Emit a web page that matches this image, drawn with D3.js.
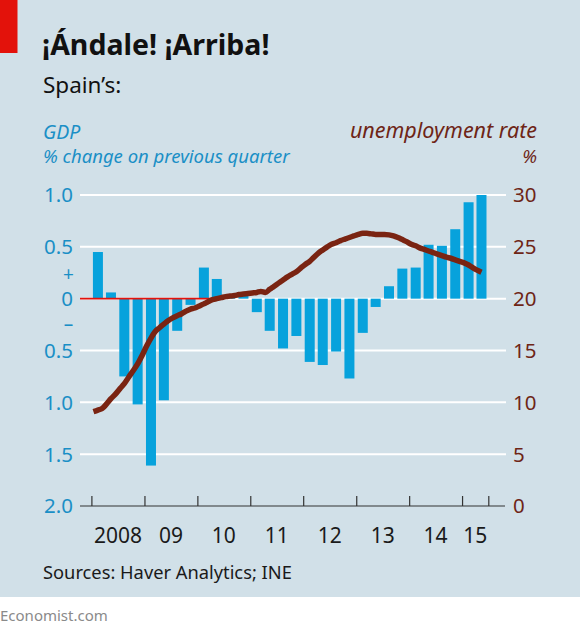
<!DOCTYPE html>
<html>
<head>
<meta charset="utf-8">
<script src="https://cdn.jsdelivr.net/npm/d3@7"></script>
<style>
  html, body { margin: 0; padding: 0; background: #ffffff; }
  svg { display: block; }
  text { font-family: "Noto Sans", Roboto, sans-serif; }
</style>
</head>
<body>
<div id="chart"></div>
<script>
// ---------------- DATA ----------------
// Quarterly GDP, % change on previous quarter, 2008Q1 – 2015Q2
const quarters = [
  "2008Q1","2008Q2","2008Q3","2008Q4",
  "2009Q1","2009Q2","2009Q3","2009Q4",
  "2010Q1","2010Q2","2010Q3","2010Q4",
  "2011Q1","2011Q2","2011Q3","2011Q4",
  "2012Q1","2012Q2","2012Q3","2012Q4",
  "2013Q1","2013Q2","2013Q3","2013Q4",
  "2014Q1","2014Q2","2014Q3","2014Q4",
  "2015Q1","2015Q2"
];
const gdpChange = [
  0.45, 0.06, -0.75, -1.02,
  -1.61, -0.98, -0.31, -0.06,
  0.30, 0.19, 0.01, 0.03,
  -0.13, -0.31, -0.48, -0.36,
  -0.61, -0.64, -0.51, -0.77,
  -0.33, -0.08, 0.12, 0.29,
  0.30, 0.52, 0.51, 0.67,
  0.93, 1.00
];
// Monthly unemployment rate (%), January 2008 – May 2015
const unempMonths = d3.range(0, 89).map(m => `${2008 + Math.floor(m / 12)}-${String(m % 12 + 1).padStart(2, "0")}`);
const unempRate = [
  9.1, 9.25, 9.4, 9.85, 10.35, 10.8, 11.3, 11.8, 12.45, 13.05, 13.7, 14.5,
  15.4, 16.2, 16.8, 17.2, 17.55, 17.9, 18.15, 18.35, 18.55, 18.8, 19.0, 19.1,
  19.3, 19.5, 19.7, 19.9, 20.0, 20.1, 20.2, 20.25, 20.3, 20.4, 20.45, 20.5,
  20.55, 20.6, 20.7, 20.6, 20.9, 21.2, 21.5, 21.8, 22.1, 22.35, 22.6, 22.95,
  23.3, 23.6, 24.0, 24.4, 24.7, 25.0, 25.25, 25.4, 25.6, 25.75, 25.9, 26.05,
  26.2, 26.3, 26.3, 26.25, 26.2, 26.2, 26.2, 26.15, 26.05, 25.9, 25.7, 25.5,
  25.25, 25.1, 24.9, 24.75, 24.6, 24.45, 24.3, 24.15, 24.0, 23.9, 23.75, 23.6,
  23.45, 23.25, 23.0, 22.75, 22.55
];
// Axis ticks
const gdpTicks = [1.0, 0.5, 0, -0.5, -1.0, -1.5, -2.0];
const gdpTickLabels = ["1.0", "0.5", "0", "0.5", "1.0", "1.5", "2.0"];
const unempTicks = [30, 25, 20, 15, 10, 5, 0];
const yearTicks = [2008, 2009, 2010, 2011, 2012, 2013, 2014, 2015, 2015.5];
const yearLabels = ["2008", "09", "10", "11", "12", "13", "14", "15"];

// ---------------- LAYOUT ----------------
const W = 580, H = 634;
const COL = {
  bg: "#d1e0e8", bar: "#07a2dc", line: "#7a2412", blueText: "#1a8fc6",
  brownText: "#6e2516", red: "#e3120b", grid: "#ffffff", text: "#1a1a1a"
};
const plotL = 80, plotR = 506, plotT = 195, plotB = 506;

const svg = d3.select("#chart").append("svg").attr("width", W).attr("height", H);

svg.append("rect").attr("x", 0).attr("y", 0).attr("width", W).attr("height", 597).attr("fill", COL.bg);
svg.append("rect").attr("x", 0).attr("y", 0).attr("width", 17.5).attr("height", 53).attr("fill", COL.red);

// Titles
svg.append("text").attr("x", 42).attr("y", 55).attr("font-size", 28.5).attr("font-weight", 700)
  .attr("fill", "#111").text("¡Ándale! ¡Arriba!");
svg.append("text").attr("x", 43).attr("y", 93).attr("font-size", 22.5)
  .attr("fill", "#111").text("Spain’s:");
svg.append("text").attr("x", 43).attr("y", 139).attr("font-size", 19.5).attr("font-style", "italic")
  .attr("fill", COL.blueText).text("GDP");
svg.append("text").attr("x", 43).attr("y", 163).attr("font-size", 18.5).attr("font-style", "italic")
  .attr("fill", COL.blueText).text("% change on previous quarter");
svg.append("text").attr("x", 537).attr("y", 138).attr("font-size", 21.5).attr("font-style", "italic")
  .attr("text-anchor", "end").attr("fill", COL.brownText).text("unemployment rate");
svg.append("text").attr("x", 537).attr("y", 163).attr("font-size", 18.5).attr("font-style", "italic")
  .attr("text-anchor", "end").attr("fill", COL.brownText).text("%");

// Scales
const x = d3.scaleTime()
  .domain([new Date(2008, 0, 1), new Date(2015, 6, 1)])
  .range([91.4, 488.3]);
const yL = d3.scaleLinear().domain([-2, 1]).range([plotB, plotT]);
const yR = d3.scaleLinear().domain([0, 30]).range([plotB, plotT]);
const yearDate = v => new Date(Math.floor(v), Math.round((v - Math.floor(v)) * 12), 1);

// Gridlines
svg.append("g").selectAll("line").data(gdpTicks.filter(d => d > -2)).join("line")
  .attr("x1", plotL).attr("x2", plotR)
  .attr("y1", d => yL(d)).attr("y2", d => yL(d))
  .attr("stroke", COL.grid).attr("stroke-width", 2);

// Left axis labels
svg.append("g").selectAll("text").data(gdpTicks).join("text")
  .attr("x", 73).attr("y", d => yL(d)).attr("dy", "0.36em")
  .attr("text-anchor", "end").attr("font-size", 20.5).attr("fill", COL.blueText)
  .text((d, i) => gdpTickLabels[i]);
svg.append("text").attr("x", 68.5).attr("y", yL(0.24)).attr("dy", "0.36em")
  .attr("text-anchor", "middle").attr("font-size", 19).attr("fill", COL.blueText).text("+");
svg.append("text").attr("x", 68.5).attr("y", yL(-0.25)).attr("dy", "0.36em")
  .attr("text-anchor", "middle").attr("font-size", 19).attr("fill", COL.blueText).text("–");

// Right axis labels
svg.append("g").selectAll("text").data(unempTicks).join("text")
  .attr("x", 513).attr("y", d => yR(d)).attr("dy", "0.36em")
  .attr("text-anchor", "start").attr("font-size", 20.5).attr("fill", COL.brownText)
  .text(d => d);

// Bars
const qDate = i => new Date(2008, 3 * i + 1, 15);
const barW = 10;
svg.append("g").selectAll("rect").data(gdpChange).join("rect")
  .attr("x", (d, i) => x(qDate(i)) - barW / 2)
  .attr("width", barW)
  .attr("y", d => yL(Math.max(0, d)))
  .attr("height", d => Math.abs(yL(d) - yL(0)))
  .attr("fill", COL.bar);

// Red zero line (left part)
svg.append("line").attr("x1", plotL).attr("x2", 211)
  .attr("y1", yL(0)).attr("y2", yL(0)).attr("stroke", COL.red).attr("stroke-width", 1.6);

// Unemployment line
const mDate = m => new Date(2008, m, 15);
const line = d3.line().x((d, i) => x(mDate(i))).y(d => yR(d)).curve(d3.curveMonotoneX);
svg.append("path").datum(unempRate).attr("d", line)
  .attr("fill", "none").attr("stroke", COL.line).attr("stroke-width", 5.5)
  .attr("stroke-linejoin", "round");

// Bottom axis
const xAxis = d3.axisBottom(x)
  .tickValues(yearTicks.map(yearDate))
  .tickSize(-10).tickFormat("");
const gx = svg.append("g").attr("transform", `translate(0,${plotB})`).call(xAxis);
gx.select(".domain").attr("d", `M${plotL},0H${plotR - 1}`).attr("stroke", "#333").attr("stroke-width", 1.2);
gx.selectAll(".tick line").attr("stroke", "#333").attr("stroke-width", 1.2);

svg.append("g").selectAll("text").data(yearLabels).join("text")
  .attr("x", (d, i) => (x(yearDate(yearTicks[i])) + x(yearDate(yearTicks[i + 1]))) / 2)
  .attr("y", 543).attr("text-anchor", "middle").attr("font-size", 21).attr("fill", COL.text)
  .text(d => d);

// Footer
svg.append("text").attr("x", 43).attr("y", 579).attr("font-size", 18.3).attr("fill", COL.text)
  .text("Sources: Haver Analytics; INE");
svg.append("text").attr("x", 0).attr("y", 621).attr("font-size", 15).attr("fill", "#8a8a8a")
  .text("Economist.com");
</script>
</body>
</html>
